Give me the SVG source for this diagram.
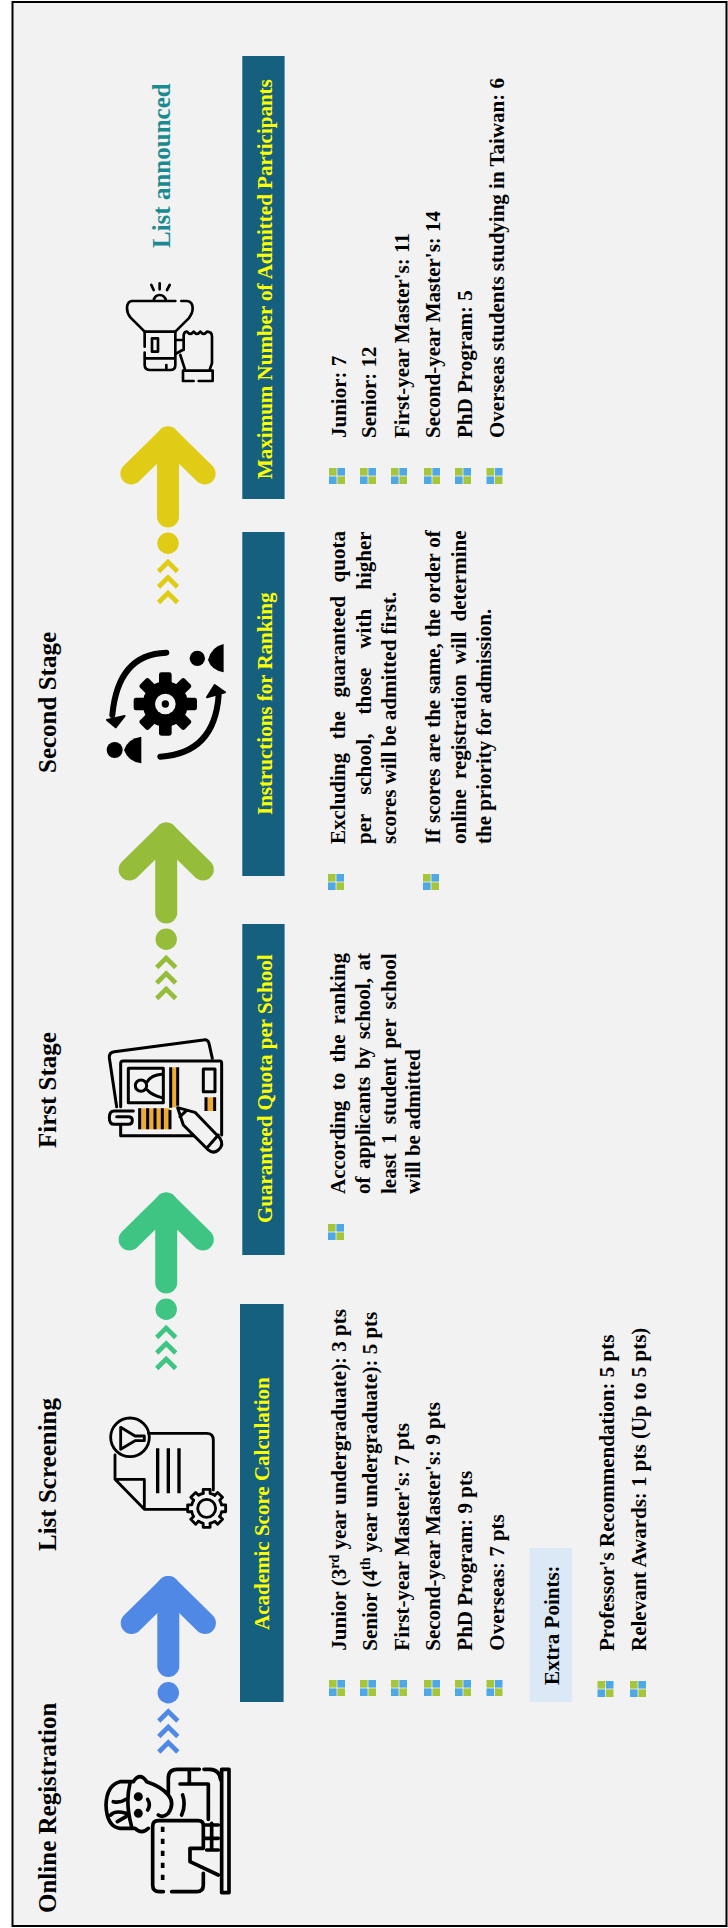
<svg xmlns="http://www.w3.org/2000/svg" width="728" height="1928" viewBox="0 0 728 1928">
<style>
text{font-family:"Liberation Serif","Times New Roman",serif;font-weight:700;font-size:21px;fill:#000}
.stage{font-size:25px}
.hd{fill:#ff0}
.panel{fill:#16607f}
.ink{fill:none;stroke:#000;stroke-linecap:round;stroke-linejoin:round}
.org{fill:#efa935}
</style>
<defs>
<g id="arrow" fill="none" stroke="currentColor">
<path d="M-36.6 47 L0 11 L36.6 47" stroke-width="22" stroke-linecap="round" stroke-linejoin="round"/>
<path d="M0 11 V90" stroke-width="22" stroke-linecap="round"/>
<circle cx="0" cy="116.7" r="10.7" fill="currentColor" stroke="none"/>
<path d="M-9.5 145 L0 135.5 L9.5 145 M-9.5 160.5 L0 151 L9.5 160.5 M-9.5 176 L0 166.5 L9.5 176" stroke-width="4.6"/>
</g>
<g id="bullet">
<rect x="0" y="0" width="7.6" height="7.6" fill="#a5c63a"/><rect x="8.4" y="0" width="7.6" height="7.6" fill="#4fa8e6"/>
<rect x="0" y="8.4" width="7.6" height="7.6" fill="#4fa8e6"/><rect x="8.4" y="8.4" width="7.6" height="7.6" fill="#a5c63a"/>
</g>
<path id="tooth" d="M44.8 -10.4 H57 V10.4 H44.8 A46 46 0 0 1 39 24.4"/>
</defs>
<rect x="12.5" y="2" width="714" height="1924" fill="#f2f2f2" stroke="#000" stroke-width="2"/>

<g id="connectors">
<use href="#arrow" transform="translate(168.3 1576)" style="color:#4f88e5"/>
<use href="#arrow" transform="translate(166.2 1192.5)" style="color:#3ec583"/>
<use href="#arrow" transform="translate(166.2 822.5)" style="color:#95bd3a"/>
<use href="#arrow" transform="translate(168 426.5)" style="color:#e0cc14"/>
</g>

<g id="stage-online-registration">
<text class="stage" transform="translate(55.7 1913) rotate(-90)">Online Registration</text>
<g class="ink" stroke-width="11" transform="translate(100 1760) scale(.3333)">
<rect x="365" y="28" width="22" height="370"/>
<path d="M205 100 V55 Q205 28 232 28 H298 M312 28 H330 Q360 30 362 60 M268 28 V72 M240 72 H325 V178 M248 105 Q258 135 245 165"/>
<path d="M100 65 H60 Q20 75 18 135 Q20 200 60 205 H105 Q125 225 145 205 M100 65 Q120 35 140 65 Q185 80 205 105 Q225 130 205 160 Q190 175 175 165 M90 70 Q75 130 95 200 M40 125 Q60 130 78 118 M32 165 Q45 150 78 160 M52 185 L78 170"/>
<circle cx="115" cy="110" r="8" fill="#000"/><circle cx="115" cy="160" r="8" fill="#000"/>
<path d="M143 118 Q153 135 143 150"/>
<path d="M175 182 H295 Q310 182 310 197 V262 M190 395 H178 Q158 395 158 375 V200 Q158 182 175 182 M215 395 H290 Q310 395 310 375 V340"/>
<path d="M188 200 V375" stroke-dasharray="16 20" stroke-linecap="butt"/>
<path d="M310 265 H270 V305 L355 345 M315 195 H355 M315 235 H355 M320 270 H355 M335 190 V270"/>
</g>
</g>

<g id="stage-list-screening">
<text class="stage" transform="translate(55.7 1551) rotate(-90)">List Screening</text>
<g class="ink" stroke-width="8.5" transform="translate(105 1410) scale(.3333)">
<circle cx="75" cy="82" r="58"/>
<path d="M47 52 L90 78 H118 V92 H90 L47 118 Z"/>
<path d="M130 70 H305 Q325 70 325 90 V240 M30 135 V208 L118 298 H245 M30 208 H118 V298"/>
<path d="M158 115 V250 M190 115 V250 M222 115 V250" stroke-width="10" stroke-linecap="butt"/>
<g transform="translate(305 295)">
<use href="#tooth"/><use href="#tooth" transform="rotate(45)"/><use href="#tooth" transform="rotate(90)"/><use href="#tooth" transform="rotate(135)"/><use href="#tooth" transform="rotate(180)"/><use href="#tooth" transform="rotate(225)"/><use href="#tooth" transform="rotate(270)"/><use href="#tooth" transform="rotate(315)"/>
<circle r="27"/>
</g>
</g>
</g>

<g id="stage-first">
<text class="stage" transform="translate(55.7 1148) rotate(-90)">First Stage</text>
<g transform="translate(105 1035) scale(.3333)">
<rect class="org" x="200" y="97" width="14" height="120"/>
<rect class="org" x="100" y="220" width="95" height="63"/>
<rect class="org" x="305" y="187" width="22" height="41"/>
<g class="ink" stroke-width="9">
<path d="M322 70 L312 25 Q308 12 295 15 L28 50 Q12 52 13 68 L35 215"/>
<path d="M47 215 V85 Q47 78 55 78 H345 Q350 78 350 85 V300 M47 270 V302 H270"/>
<rect x="70" y="100" width="105" height="103"/>
<circle cx="108" cy="152" r="17"/>
<path d="M127 140 Q140 120 170 118 M127 165 Q140 180 170 188"/>
<path d="M197 97 V218 M218 97 V212 M104 220 V283 M128 220 V283 M150 220 V283 M172 220 V283 M195 225 V283" stroke-linecap="butt"/>
<rect x="295" y="102" width="35" height="68"/>
<path d="M303 187 V228 M329 187 V228" stroke-linecap="butt"/>
<path d="M85 228 H28 Q13 228 13 248 Q13 268 28 268 H70 Q82 268 82 256 Q82 245 70 245 H35"/>
<path d="M218 218 L270 232 L345 310 Q358 330 340 345 Q325 358 310 345 L235 270 Z M305 340 L340 300 M225 245 L245 226" fill="#f2f2f2"/>
</g>
</g>
</g>

<g id="stage-second">
<text class="stage" transform="translate(55.7 773) rotate(-90)">Second Stage</text>
<g transform="translate(103 640) scale(.3333)">
<g transform="translate(187 192)" fill="#000">
<circle r="68"/>
<rect x="-95" y="-19" width="190" height="38" rx="7"/>
<rect x="-95" y="-19" width="190" height="38" rx="7" transform="rotate(45)"/>
<rect x="-95" y="-19" width="190" height="38" rx="7" transform="rotate(90)"/>
<rect x="-95" y="-19" width="190" height="38" rx="7" transform="rotate(135)"/>
<circle r="31" fill="#f2f2f2"/><circle r="11"/>
</g>
<path class="ink" stroke-width="18" d="M190 38 Q45 42 28 225 M172 350 Q335 340 347 165"/>
<path d="M12 240 L65 228 L38 262 Z M312 172 L335 135 L366 157 Z" fill="#000" stroke="#000" stroke-width="6" stroke-linejoin="round"/>
<circle cx="283" cy="55" r="23"/>
<path d="M315 60 Q325 20 362 12 V97 Q325 90 315 60 Z"/>
<circle cx="35" cy="330" r="24"/>
<path d="M63 330 Q75 295 115 290 V370 Q75 365 63 330 Z"/>
</g>
</g>

<g id="stage-announced">
<text class="stage" transform="translate(170 248) rotate(-90)" style="fill:#1a8a8f">List announced</text>
<g class="ink" stroke-width="8" transform="translate(122 280) scale(.3333)">
<path d="M88 15 L95 30 M113 10 V28 M143 15 L135 30 M95 62 Q98 45 113 45 Q128 45 132 62"/>
<path d="M160 63 H30 Q15 65 15 85 Q15 100 25 112 L68 155 M178 63 H195 Q212 65 212 85 Q212 100 200 115 L160 155"/>
<path d="M68 155 H160 V220 M68 155 V200 M68 218 V255 Q68 270 85 270 H145 Q160 270 160 255 V225 M68 235 H160 M133 255 V268"/>
<rect x="90" y="175" width="18" height="40"/>
<path d="M160 180 H185 M160 222 L182 210 M185 210 V165 Q187 155 195 155 Q205 168 215 155 Q225 168 235 155 Q245 168 255 155 Q270 155 270 170 V250 L262 272 M175 225 L190 272 M230 303 H272 V272 H183 V303 H215"/>
</g>
</g>

<g id="panel-academic">
<rect class="panel" x="240" y="1304" width="43.6" height="398"/>
<text class="hd" transform="translate(269 1630) rotate(-90)">Academic Score Calculation</text>
<use href="#bullet" x="329" y="1680"/><text transform="translate(346 1650.7) rotate(-90)">Junior (3<tspan dy="-7" font-size="14">rd</tspan><tspan dy="7"> year undergraduate): 3 pts</tspan></text>
<use href="#bullet" x="360" y="1680"/><text transform="translate(377 1650.7) rotate(-90)">Senior (4<tspan dy="-7" font-size="14">th</tspan><tspan dy="7"> year undergraduate): 5 pts</tspan></text>
<use href="#bullet" x="391" y="1680"/><text transform="translate(408.5 1650.7) rotate(-90)">First-year Master's: 7 pts</text>
<use href="#bullet" x="424" y="1680"/><text transform="translate(440 1650.7) rotate(-90)">Second-year Master's: 9 pts</text>
<use href="#bullet" x="455" y="1680"/><text transform="translate(471.7 1650.7) rotate(-90)">PhD Program: 9 pts</text>
<use href="#bullet" x="486.5" y="1680"/><text transform="translate(504 1650.7) rotate(-90)">Overseas: 7 pts</text>
<rect x="529.7" y="1548" width="42.3" height="154" fill="#dbe8f6"/>
<text transform="translate(559.4 1685) rotate(-90)">Extra Points:</text>
<use href="#bullet" x="597.5" y="1681"/><text transform="translate(613.7 1651) rotate(-90)">Professor's Recommendation: 5 pts</text>
<use href="#bullet" x="630" y="1681"/><text transform="translate(646 1651) rotate(-90)">Relevant Awards: 1 pts (Up to 5 pts)</text>
</g>

<g id="panel-guaranteed">
<rect class="panel" x="242.3" y="924" width="42.3" height="331"/>
<text class="hd" transform="translate(271.6 1223) rotate(-90)">Guaranteed Quota per School</text>
<use href="#bullet" x="328" y="1224"/>
<text transform="translate(344.5 1194) rotate(-90)" word-spacing="5.08">According to the ranking</text>
<text transform="translate(370 1194) rotate(-90)" word-spacing="2.35">of applicants by school, at</text>
<text transform="translate(396 1194) rotate(-90)" word-spacing="3.95">least 1 student per school</text>
<text transform="translate(420 1194) rotate(-90)">will be admitted</text>
</g>

<g id="panel-ranking">
<rect class="panel" x="242.3" y="532" width="42.3" height="344"/>
<text class="hd" transform="translate(271.6 815) rotate(-90)">Instructions for Ranking</text>
<use href="#bullet" x="328" y="874"/>
<text transform="translate(344.5 844) rotate(-90)" word-spacing="8.45">Excluding the guaranteed quota</text>
<text transform="translate(370.5 844) rotate(-90)" word-spacing="13.94">per school, those with higher</text>
<text transform="translate(396 844) rotate(-90)">scores will be admitted first.</text>
<use href="#bullet" x="423" y="874"/>
<text transform="translate(439.6 844) rotate(-90)" word-spacing=".68">If scores are the same, the order of</text>
<text transform="translate(465.6 844) rotate(-90)" word-spacing="4.9">online registration will determine</text>
<text transform="translate(490.7 844) rotate(-90)">the priority for admission.</text>
</g>

<g id="panel-maximum">
<rect class="panel" x="242.3" y="56" width="42.3" height="443"/>
<text class="hd" transform="translate(271.6 479) rotate(-90)">Maximum Number of Admitted Participants</text>
<use href="#bullet" x="329" y="468"/><text transform="translate(346 438) rotate(-90)">Junior: 7</text>
<use href="#bullet" x="360" y="468"/><text transform="translate(376 438) rotate(-90)">Senior: 12</text>
<use href="#bullet" x="391" y="468"/><text transform="translate(408.5 438) rotate(-90)">First-year Master's: 11</text>
<use href="#bullet" x="424" y="468"/><text transform="translate(440 438) rotate(-90)">Second-year Master's: 14</text>
<use href="#bullet" x="455" y="468"/><text transform="translate(471.7 438) rotate(-90)">PhD Program: 5</text>
<use href="#bullet" x="486.5" y="468"/><text transform="translate(503.7 438) rotate(-90)">Overseas students studying in Taiwan: 6</text>
</g>
</svg>
